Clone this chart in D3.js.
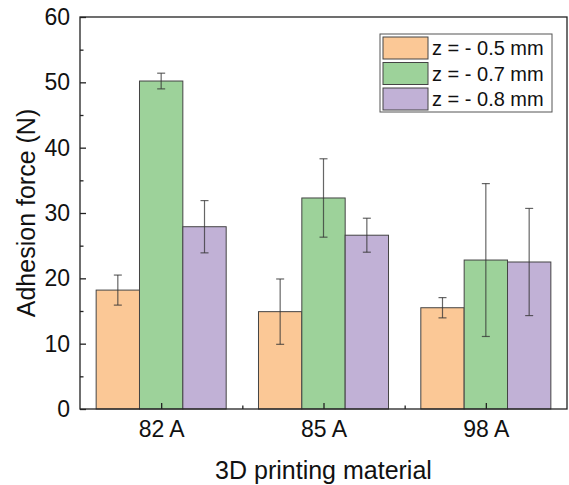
<!DOCTYPE html>
<html>
<head>
<meta charset="utf-8">
<script src="https://cdn.jsdelivr.net/npm/d3@7"></script>
<style>
  body { margin: 0; background: #fff; }
  text { font-family: 'Liberation Sans', Arial, sans-serif; fill: #111; }
</style>
</head>
<body>
<div id="chart"></div>
<script>
// data
const materials = ['82 A', '85 A', '98 A']
const seriesNames = ['z = - 0.5 mm', 'z = - 0.7 mm', 'z = - 0.8 mm']
const z05 = [18.2, 14.9, 15.5]
const z05err = [2.3, 5.0, 1.55]
const z07 = [50.2, 32.3, 22.8]
const z07err = [1.2, 6.0, 11.7]
const z08 = [27.9, 26.6, 22.5]
const z08err = [4.0, 2.6, 8.2]
const yTicks = [0, 10, 20, 30, 40, 50, 60]
const colors = ['#fbc896', '#9dd29a', '#c1b1d6']

const series = [
  { name: seriesNames[0], values: z05, errs: z05err },
  { name: seriesNames[1], values: z07, errs: z07err },
  { name: seriesNames[2], values: z08, errs: z08err }
]

const margin = { top: 17, left: 80, right: 2, bottom: 76 }
const width = 569 - margin.left - margin.right
const height = 485 - margin.top - margin.bottom

const svg = d3.select('#chart')
  .append('svg')
  .attr('width', 569)
  .attr('height', 485)
  .append('g')
  .attr('transform', 'translate(' + margin.left + ',' + margin.top + ')')

// categories sit at 1, 2, 3 on a 0.5..3.5 axis
const xPositionScale = d3.scaleLinear().domain([0.5, 3.5]).range([0, width])
const yPositionScale = d3.scaleLinear().domain([0, 60]).range([height, 0])
const barWidth = 0.267

series.forEach((s, i) => {
  const g = svg.append('g')
  const offset = (i - 1) * barWidth
  g.selectAll('rect')
    .data(s.values)
    .enter()
    .append('rect')
    .attr('x', (d, j) => xPositionScale(j + 1 + offset - barWidth / 2))
    .attr('width', xPositionScale(barWidth) - xPositionScale(0))
    .attr('y', d => yPositionScale(d))
    .attr('height', d => height - yPositionScale(d))
    .attr('fill', colors[i])
    .attr('stroke', '#444')
    .attr('stroke-width', 1)

  const cap = 4
  s.values.forEach((v, j) => {
    const cx = xPositionScale(j + 1 + offset)
    const top = yPositionScale(v + s.errs[j])
    const bot = yPositionScale(v - s.errs[j])
    const eb = g.append('g')
      .attr('stroke', '#333')
      .attr('stroke-opacity', 0.75)
      .attr('stroke-width', 1.2)
    eb.append('line').attr('x1', cx).attr('x2', cx).attr('y1', top).attr('y2', bot)
    eb.append('line').attr('x1', cx - cap).attr('x2', cx + cap).attr('y1', top).attr('y2', top)
    eb.append('line').attr('x1', cx - cap).attr('x2', cx + cap).attr('y1', bot).attr('y2', bot)
  })
})

// frame
svg.append('rect')
  .attr('width', width)
  .attr('height', height)
  .attr('fill', 'none')
  .attr('stroke', '#222')
  .attr('stroke-width', 1.3)

// y axis, inward ticks
const yAxis = d3.axisLeft(yPositionScale).tickValues(yTicks).tickSize(-6).tickPadding(10)
svg.append('g')
  .attr('class', 'axis y-axis')
  .call(yAxis)
  .call(g => g.select('.domain').remove())
  .call(g => g.selectAll('text').attr('font-size', 23))

const yMinor = d3.axisLeft(yPositionScale).tickValues(d3.range(5, 60, 10)).tickSize(-3.5).tickFormat('')
svg.append('g').call(yMinor).call(g => g.select('.domain').remove())

// x axis, inward ticks
const xAxis = d3.axisBottom(xPositionScale)
  .tickValues([1, 2, 3])
  .tickFormat((d, i) => materials[i])
  .tickSize(-6)
  .tickPadding(12)
svg.append('g')
  .attr('class', 'axis x-axis')
  .attr('transform', 'translate(0,' + height + ')')
  .call(xAxis)
  .call(g => g.select('.domain').remove())
  .call(g => g.selectAll('text').attr('font-size', 23))

const xMinor = d3.axisBottom(xPositionScale).tickValues([1.5, 2.5]).tickSize(-3.5).tickFormat('')
svg.append('g')
  .attr('transform', 'translate(0,' + height + ')')
  .call(xMinor)
  .call(g => g.select('.domain').remove())

svg.selectAll('.tick line').attr('stroke', '#222').attr('stroke-width', 1.3)

// axis titles
svg.append('text')
  .text('3D printing material')
  .attr('x', width / 2)
  .attr('y', height + 70)
  .attr('text-anchor', 'middle')
  .attr('font-size', 25)

svg.append('text')
  .text('Adhesion force (N)')
  .attr('transform', 'translate(' + (-45) + ',' + (height / 2) + ') rotate(-90)')
  .attr('text-anchor', 'middle')
  .attr('font-size', 25)

// legend
const legend = svg.append('g').attr('transform', 'translate(300,17)')
legend.append('rect')
  .attr('width', 172)
  .attr('height', 78)
  .attr('fill', '#fff')
  .attr('stroke', '#555')
  .attr('stroke-width', 1)

series.forEach((s, i) => {
  legend.append('rect')
    .attr('x', 3)
    .attr('y', 3 + i * 25.5)
    .attr('width', 45)
    .attr('height', 22)
    .attr('fill', colors[i])
    .attr('stroke', '#444')
  legend.append('text')
    .text(s.name)
    .attr('x', 52)
    .attr('y', 14 + i * 25.5)
    .attr('dy', '0.35em')
    .attr('font-size', 20)
})
</script>
</body>
</html>
